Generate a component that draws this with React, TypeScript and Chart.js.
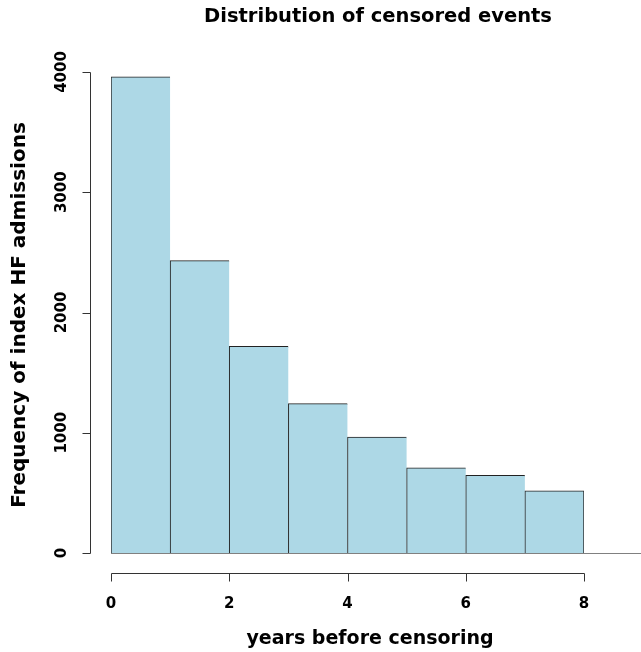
import React, { useEffect, useRef } from 'react';
import { Chart, registerables } from 'chart.js';

Chart.register(...registerables);

// Histogram bins (left edges, width 1 year) and their counts
const BIN_LEFT = [0, 1, 2, 3, 4, 5, 6, 7];
const BIN_WIDTH = 1;
const FREQUENCY = [3959, 2432, 1718, 1242, 965, 708, 645, 517];

const Y_TICKS = [0, 1000, 2000, 3000, 4000];
const X_TICKS = [0, 2, 4, 6, 8];

const TITLE = 'Distribution of censored events';
const X_TITLE = 'years before censoring';
const Y_TITLE = 'Frequency of index HF admissions';

const FONT = '"DejaVu Sans", sans-serif';

const rAxesPlugin = {
  id: 'rAxes',
  afterDraw(chart: any) {
    const { ctx, scales } = chart;
    const x = scales.x;
    const y = scales.y;
    const W = chart.width;
    ctx.save();

    // baseline at y = 0 (extends to the right edge)
    const yBase = Math.round(y.getPixelForValue(0)) + 0.5;
    ctx.strokeStyle = '#808080';
    ctx.lineWidth = 1;
    ctx.beginPath();
    ctx.moveTo(Math.round(x.getPixelForValue(0)), yBase);
    ctx.lineTo(W, yBase);
    ctx.stroke();

    // y axis
    const axX = 90.5;
    ctx.strokeStyle = '#333';
    ctx.beginPath();
    ctx.moveTo(axX, Math.round(y.getPixelForValue(Y_TICKS[0])) + 0.5);
    ctx.lineTo(axX, Math.round(y.getPixelForValue(Y_TICKS[Y_TICKS.length - 1])) + 0.5);
    Y_TICKS.forEach((t) => {
      const py = Math.round(y.getPixelForValue(t)) + 0.5;
      ctx.moveTo(axX, py);
      ctx.lineTo(axX - 8, py);
    });
    ctx.stroke();

    ctx.fillStyle = '#000';
    ctx.font = `bold 15px ${FONT}`;
    ctx.textAlign = 'center';
    ctx.textBaseline = 'middle';
    Y_TICKS.forEach((t) => {
      const py = y.getPixelForValue(t);
      ctx.save();
      ctx.translate(62, py);
      ctx.rotate(-Math.PI / 2);
      ctx.fillText(String(t), 0, 0);
      ctx.restore();
    });

    // x axis
    const axY = 573.5;
    ctx.beginPath();
    ctx.moveTo(Math.round(x.getPixelForValue(X_TICKS[0])) + 0.5, axY);
    ctx.lineTo(Math.round(x.getPixelForValue(X_TICKS[X_TICKS.length - 1])) + 0.5, axY);
    X_TICKS.forEach((t) => {
      const px = Math.round(x.getPixelForValue(t)) + 0.5;
      ctx.moveTo(px, axY);
      ctx.lineTo(px, axY + 8);
    });
    ctx.stroke();

    X_TICKS.forEach((t) => {
      ctx.fillText(String(t), x.getPixelForValue(t), 604);
    });

    // titles
    ctx.font = `bold 19.5px ${FONT}`;
    ctx.fillText(TITLE, 378, 17);
    ctx.font = `bold 19px ${FONT}`;
    ctx.fillText(X_TITLE, 370, 639);
    ctx.font = `bold 20px ${FONT}`;
    ctx.save();
    ctx.translate(20, 315);
    ctx.rotate(-Math.PI / 2);
    ctx.fillText(Y_TITLE, 0, 0);
    ctx.restore();

    ctx.restore();
  },
};

export default function App() {
  const ref = useRef<HTMLCanvasElement | null>(null);

  useEffect(() => {
    if (!ref.current) return;
    const n = FREQUENCY.length;
    const chart = new Chart(ref.current, {
      type: 'bar',
      data: {
        datasets: [
          {
            data: BIN_LEFT.map((l, i) => ({ x: l + BIN_WIDTH / 2, y: FREQUENCY[i] })),
            backgroundColor: '#ADD8E6',
            borderColor: '#222',
            borderWidth: (c: any) => ({
              top: 1,
              left: 1,
              right: c.dataIndex === n - 1 ? 1 : 0,
              bottom: 0,
            }),
            borderSkipped: false,
            barPercentage: 1,
            categoryPercentage: 1,
          } as any,
        ],
      },
      options: {
        animation: false,
        responsive: false,
        devicePixelRatio: 1,
        layout: { padding: { left: 111, right: 57, top: 72, bottom: 99 } },
        plugins: {
          legend: { display: false },
          tooltip: { enabled: false },
          title: { display: false },
        },
        scales: {
          x: { type: 'linear', min: 0, max: 8, display: false, offset: false },
          y: { type: 'linear', min: 0, max: 4000, display: false },
        },
      },
      plugins: [rAxesPlugin],
    });
    return () => chart.destroy();
  }, []);

  return (
    <div style={{ position: 'fixed', left: 0, top: 0, width: 641, height: 652, background: '#fff' }}>
      <canvas ref={ref} width={641} height={652} style={{ display: 'block' }} />
    </div>
  );
}
